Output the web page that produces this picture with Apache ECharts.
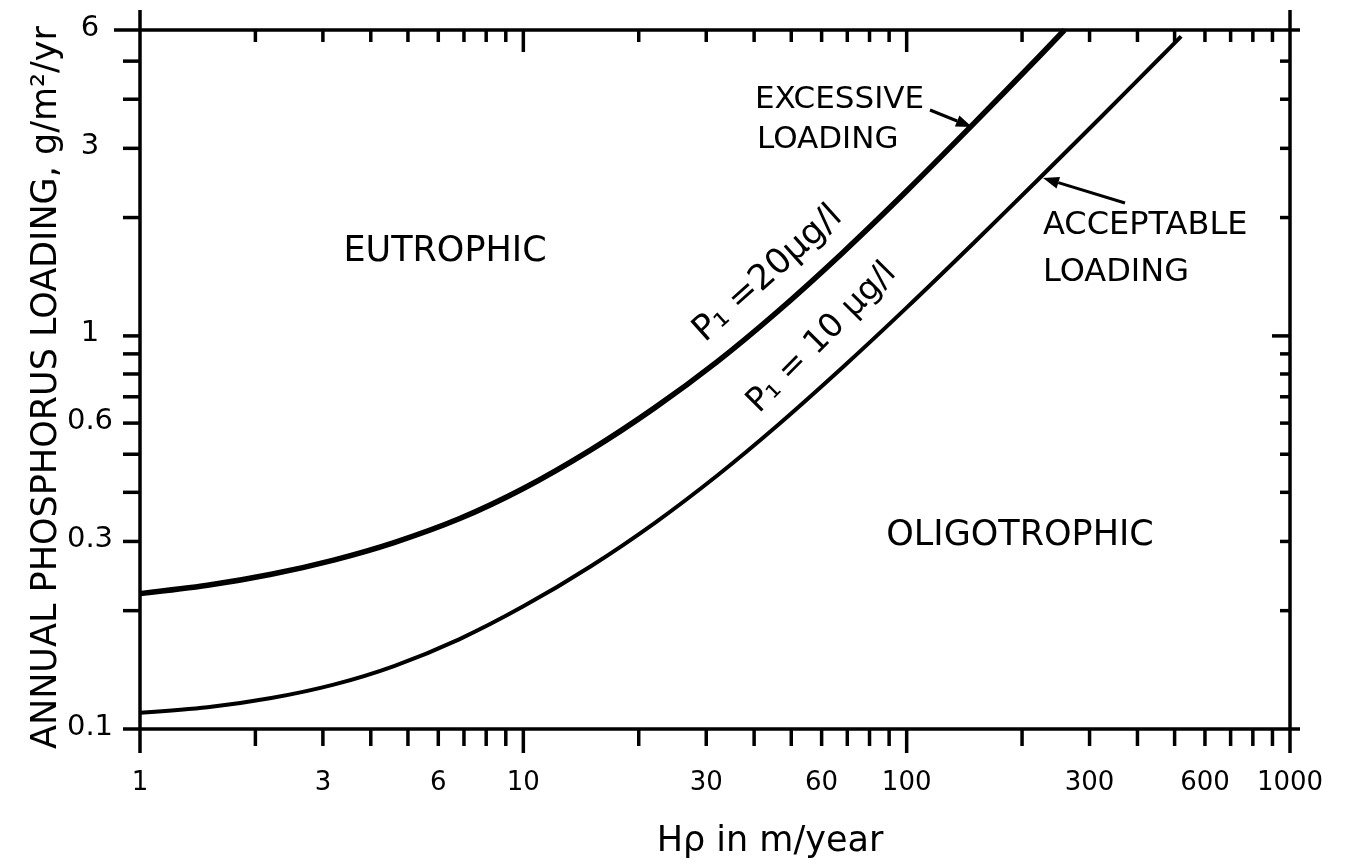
<!DOCTYPE html>
<html>
<head>
<meta charset="utf-8">
<script src="https://cdn.jsdelivr.net/npm/echarts@6/dist/echarts.min.js"></script>
<style>html,body{margin:0;padding:0;background:#fff}#chart{width:1345px;height:864px}</style>
</head>
<body>
<div id="chart"></div>
<script>
// ---- data ----
const hp20 = [1, 1.5, 2.2, 3.2, 4.6, 6.8, 10, 15, 22, 32, 46, 68, 100, 150, 220, 258];
const loading20 = [0.221, 0.232, 0.2475, 0.269, 0.298, 0.3425, 0.409, 0.513, 0.656, 0.859, 1.152, 1.626, 2.336, 3.476, 5.10, 6.0];
const hp10 = [1, 1.5, 2.2, 3.2, 4.6, 6.8, 10, 15, 22, 32, 46, 68, 100, 150, 220, 320, 460, 520];
const loading10 = [0.110, 0.1136, 0.1199, 0.1297, 0.1446, 0.1691, 0.2051, 0.2595, 0.3341, 0.4408, 0.5916, 0.831, 1.18, 1.728, 2.496, 3.589, 5.122, 5.78];

const xTickValues = [1,2,3,4,5,6,7,8,9,10,20,30,40,50,60,70,80,90,100,200,300,400,500,600,700,800,900,1000];
const xMajorTicks = [1, 10, 100, 1000];
const xLabelValues = [1, 3, 6, 10, 30, 60, 100, 300, 600, 1000];
const xLabelTexts = ['1', '3', '6', '10', '30', '60', '100', '300', '600', '1000'];
const yTickValues = [0.1,0.2,0.3,0.4,0.5,0.6,0.7,0.8,0.9,1,2,3,4,5,6];
const yLabelValues = [0.1, 0.3, 0.6, 1, 3, 6];
const yLabelTexts = ['0.1', '0.3', '0.6', '1', '3', '6'];

const X_MIN = 1, X_MAX = 1000, Y_MIN = 0.1, Y_MAX = 6;
const FONT = '"DejaVu Sans", sans-serif';

function tickSeries(values, side) {
  const data = values.map(v => (side === 'bottom') ? [v, Y_MIN] : (side === 'top') ? [v, Y_MAX] : (side === 'left') ? [X_MIN, v] : [X_MAX, v]);
  return {
    type: 'custom', silent: true, clip: false, z: 5,
    xAxisIndex: 0, yAxisIndex: 0,
    data: data,
    renderItem: function (params, api) {
      const v0 = api.value(0), v1 = api.value(1);
      const p = api.coord([v0, v1]);
      const st = { stroke: '#000', lineWidth: 3.5 };
      let shape;
      if (side === 'bottom') {
        const len = xMajorTicks.indexOf(v0) >= 0 ? 24 : 17;
        shape = { x1: p[0], y1: p[1], x2: p[0], y2: p[1] + len };
      } else if (side === 'top') {
        const len = (v0 === 10 || v0 === 100) ? 22 : 12;
        shape = { x1: p[0], y1: p[1], x2: p[0], y2: p[1] + len };
        if (v0 === X_MIN || v0 === X_MAX) shape = { x1: p[0], y1: p[1], x2: p[0], y2: p[1] - 20 };
      } else if (side === 'left') {
        const len = (v1 === Y_MAX) ? 26 : 17;
        shape = { x1: p[0], y1: p[1], x2: p[0] - len, y2: p[1] };
      } else {
        let len = (v1 === 1) ? 18 : 10;
        shape = { x1: p[0], y1: p[1], x2: p[0] - len, y2: p[1] };
        if (v1 === Y_MAX || v1 === Y_MIN) shape = { x1: p[0], y1: p[1], x2: p[0] + 10, y2: p[1] };
      }
      return { type: 'line', shape: shape, style: st };
    }
  };
}

function labelSeries(values, texts, side) {
  const data = values.map(v => side === 'bottom' ? [v, Y_MIN] : [X_MIN, v]);
  return {
    type: 'custom', silent: true, clip: false, z: 5,
    xAxisIndex: 0, yAxisIndex: 0,
    data: data,
    renderItem: function (params, api) {
      const p = api.coord([api.value(0), api.value(1)]);
      const t = texts[params.dataIndex];
      const x = side === 'bottom' ? p[0] : p[0] - 50;
      const y = side === 'bottom' ? p[1] + 54 : p[1] - 2;
      const size = side === 'bottom' ? 26 : 29;
      return { type: 'text', x: x, y: y, style: { text: t, font: size + 'px ' + FONT, fill: '#000', align: 'center', verticalAlign: 'middle' } };
    }
  };
}

function arrow(x1, y1, x2, y2) {
  const ang = Math.atan2(y2 - y1, x2 - x1);
  const L = 16, W = 6;
  const bx = x2 - L * Math.cos(ang), by = y2 - L * Math.sin(ang);
  const nx = -Math.sin(ang), ny = Math.cos(ang);
  return [
    { type: 'line', shape: { x1: x1, y1: y1, x2: bx, y2: by }, style: { stroke: '#000', lineWidth: 3 } },
    { type: 'polygon', shape: { points: [[x2, y2], [bx + nx * W, by + ny * W], [bx - nx * W, by - ny * W]] }, style: { fill: '#000' } }
  ];
}

function txt(text, x, y, size, align, rot) {
  return { type: 'text', x: x, y: y, rotation: rot || 0, z: 10,
    style: { text: text, font: size + 'px ' + FONT, fill: '#000', align: align || 'center', verticalAlign: 'middle' } };
}

const axisCommon = {
  type: 'log', logBase: 10,
  axisLine: { show: true, lineStyle: { color: '#000', width: 3.5 } },
  axisTick: { show: false }, axisLabel: { show: false }, splitLine: { show: false }
};

const chart = echarts.init(document.getElementById('chart'), null, { renderer: 'canvas' });
chart.setOption({
  animation: false,
  backgroundColor: '#fff',
  grid: { left: 140, right: 55, top: 30, bottom: 133 },
  xAxis: [
    Object.assign({}, axisCommon, { position: 'bottom', min: X_MIN, max: X_MAX,
      name: 'Hρ in m/year', nameLocation: 'middle', nameGap: 95,
      nameTextStyle: { fontFamily: FONT, fontSize: 35, color: '#000', padding: [0, 0, 0, 110] } }),
    Object.assign({}, axisCommon, { position: 'top', min: X_MIN, max: X_MAX })
  ],
  yAxis: [
    Object.assign({}, axisCommon, { position: 'left', min: Y_MIN, max: Y_MAX,
      name: 'ANNUAL PHOSPHORUS LOADING, g/m²/yr', nameLocation: 'middle', nameGap: 76, nameRotate: 90,
      nameTextStyle: { fontFamily: FONT, fontSize: 35, color: '#000', padding: [0, 16, 0, 0] } }),
    Object.assign({}, axisCommon, { position: 'right', min: Y_MIN, max: Y_MAX })
  ],
  series: [
    { name: 'P1 = 20 µg/l', type: 'line', xAxisIndex: 0, yAxisIndex: 0, data: hp20.map((x, i) => [x, loading20[i]]),
      showSymbol: false, smooth: 0.3, lineStyle: { color: '#000', width: 5.5 }, z: 3 },
    { name: 'P1 = 10 µg/l', type: 'line', xAxisIndex: 0, yAxisIndex: 0, data: hp10.map((x, i) => [x, loading10[i]]),
      showSymbol: false, smooth: 0.3, lineStyle: { color: '#000', width: 4 }, z: 3 },
    tickSeries(xTickValues, 'bottom'),
    tickSeries(xTickValues, 'top'),
    tickSeries(yTickValues, 'left'),
    tickSeries(yTickValues, 'right'),
    labelSeries(xLabelValues, xLabelTexts, 'bottom'),
    labelSeries(yLabelValues, yLabelTexts, 'left')
  ],
  graphic: [
    txt('EUTROPHIC', 445, 252, 35),
    txt('OLIGOTROPHIC', 1020, 536, 35),
    txt('EXCESSIVE', 755, 100, 31, 'left'),
    txt('LOADING', 757, 140, 31, 'left'),
    txt('ACCEPTABLE', 1043, 226, 32, 'left'),
    txt('LOADING', 1043, 273, 32, 'left'),
    txt('P₁ =20µg/l', 768, 274, 35, 'center', 0.73),
    txt('P₁ = 10 µg/l', 822, 338, 33, 'center', 0.79)
  ].concat(arrow(930, 110, 972, 127), arrow(1125, 203, 1043, 178))
});
</script>
</body>
</html>
